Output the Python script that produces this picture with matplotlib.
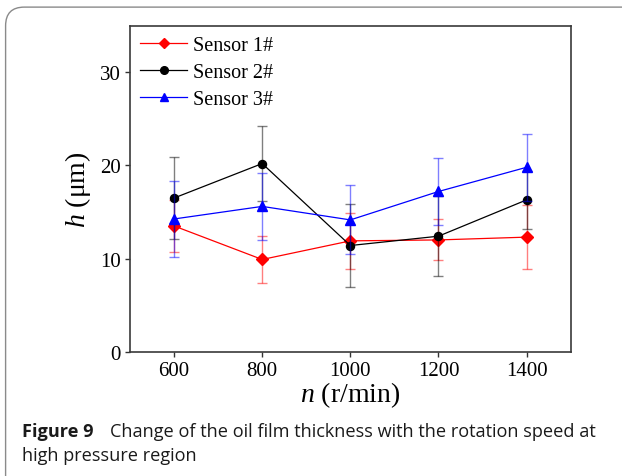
import matplotlib
matplotlib.use("Agg")
import matplotlib.pyplot as plt
from matplotlib.patches import FancyBboxPatch

speeds = [600, 800, 1000, 1200, 1400]

sensor1 = [13.5, 9.9, 11.9, 12.0, 12.3]
sensor1_err = [2.8, 2.5, 3.0, 2.2, 3.4]

sensor2 = [16.5, 20.2, 11.4, 12.4, 16.3]
sensor2_err = [4.4, 4.0, 4.5, 4.3, 3.1]

sensor3 = [14.25, 15.6, 14.15, 17.2, 19.8]
sensor3_err = [4.1, 3.6, 3.7, 3.6, 3.6]

labels = ["Sensor 1#", "Sensor 2#", "Sensor 3#"]
colors = ["#ff0000", "#000000", "#0000ff"]
markers = ["D", "o", "^"]

plt.rcParams["mathtext.fontset"] = "custom"
plt.rcParams["mathtext.rm"] = "Liberation Serif"
plt.rcParams["mathtext.it"] = "Liberation Serif:italic"

fig = plt.figure(figsize=(6.22, 4.77), dpi=100)
fig.patch.set_facecolor("white")

# rounded frame around the figure
frame = FancyBboxPatch((0.009, -0.05), 1.2, 1.033, boxstyle="round,pad=0,rounding_size=0.03",
                       transform=fig.transFigure, facecolor="none", edgecolor="#8a8a8a",
                       linewidth=1.0, mutation_aspect=622 / 477)
fig.patches.append(frame)

ax = fig.add_axes([0.209, 0.2606, 0.7085, 0.6834])

series = [(sensor1, sensor1_err), (sensor2, sensor2_err), (sensor3, sensor3_err)]
msizes = [5.8, 5.8, 6.8]
for (vals, errs), lab, c, m, ms in zip(series, labels, colors, markers, msizes):
    ax.errorbar(speeds, vals, yerr=errs, fmt="none", ecolor=c, elinewidth=1.0,
                capsize=3.4, capthick=1.0, alpha=0.5)
    ax.plot(speeds, vals, color=c, marker=m, markersize=ms, linewidth=0.9, label=lab)

ax.set_xlim(500, 1500)
ax.set_ylim(0, 35)
ax.set_xticks(speeds)
ax.set_yticks([0, 10, 20, 30])

serif = "Liberation Serif"
for lbl in ax.get_xticklabels() + ax.get_yticklabels():
    lbl.set_fontfamily(serif)
    lbl.set_fontsize(15)
ax.tick_params(direction="out", length=3.5, width=1, color="#333333",
               top=False, right=False, pad=3)
for sp in ax.spines.values():
    sp.set_linewidth(1.2)
    sp.set_color("#3a3a3a")

ax.set_xlabel(r"$n$ (r/min)", fontfamily=serif, fontsize=20, labelpad=0)
ax.set_ylabel(r"$h$ (μm)", fontfamily=serif, fontsize=20, labelpad=5)

leg = ax.legend(loc="upper left", frameon=False, prop={"family": serif, "size": 14.5},
                handlelength=2.35, handletextpad=0.27, labelspacing=0.4,
                borderpad=0.3, borderaxespad=0.2, markerscale=0.95)

cap_font = "Open Sans"
fig.text(0.035, 0.0832, "Figure 9", fontfamily=cap_font, fontweight="bold",
         fontsize=13.1, color="#1a1a1a", va="baseline")
fig.text(0.1768, 0.0832, "Change of the oil film thickness with the rotation speed at",
         fontfamily=cap_font, fontsize=13.1, color="#1a1a1a", va="baseline")
fig.text(0.035, 0.0342, "high pressure region", fontfamily=cap_font,
         fontsize=13.1, color="#1a1a1a", va="baseline")

fig.savefig("out.png", dpi=100)
